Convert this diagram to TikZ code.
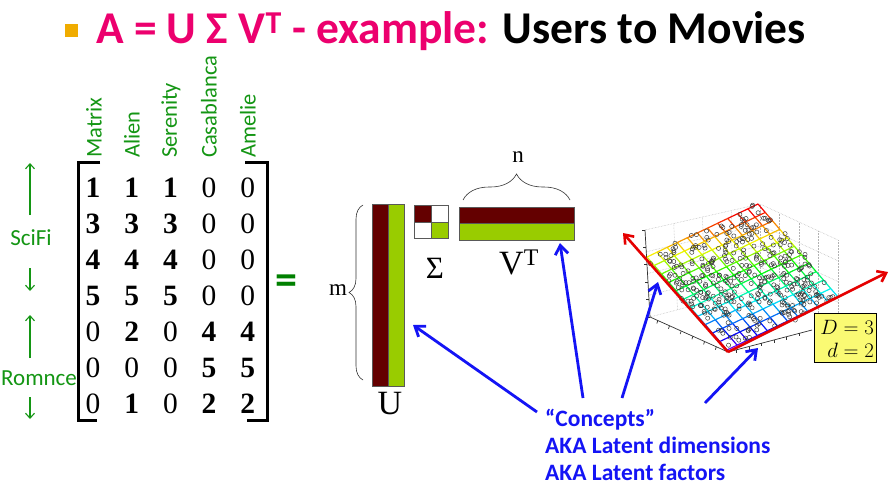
\documentclass[tikz,border=0pt]{standalone}
\usepackage{fontspec}
\setmainfont{Liberation Serif}
\newfontfamily\carl{Carlito}
\usetikzlibrary{arrows.meta,decorations.pathreplacing,calc}
\definecolor{titlered}{RGB}{236,0,110}
\definecolor{bulletor}{RGB}{240,172,0}
\definecolor{hdgreen}{RGB}{20,150,20}
\definecolor{eqgreen}{RGB}{0,128,0}
\definecolor{dkred}{RGB}{100,0,0}
\definecolor{ltgreen}{RGB}{153,204,0}
\definecolor{conceptblue}{RGB}{20,20,245}
\definecolor{boxyellow}{RGB}{250,250,115}
\tikzset{
  header/.style={font=\carl\fontsize{22.5}{26}\selectfont, text=hdgreen, inner sep=0, rotate=90, anchor=west},
  sidelabel/.style={font=\carl\fontsize{23}{26}\selectfont, text=hdgreen, inner sep=0},
  greenarrow/.style={hdgreen, line width=1.1, -{Straight Barb[length=5pt,width=9pt]}},
  entry/.style={font=\fontsize{29.5}{32}\selectfont, inner sep=0},
  bracket/.style={line width=3, line join=miter},
  blockbox/.style={draw=gray!70!black, line width=0.5, inner sep=0, anchor=north west},
  biglabel/.style={font=\fontsize{34}{38}\selectfont, inner sep=0},
  smalllabel/.style={font=\fontsize{23}{26}\selectfont, inner sep=0},
  bluearrow/.style={conceptblue, line width=2.8, -{Straight Barb[length=9pt,width=13pt]}},
  redaxis/.style={red!90!black, line width=2.6, -{Straight Barb[length=8pt,width=12pt]}},
  wallgrid/.style={gray!60, densely dotted, line width=0.5},
  blackaxis/.style={black!80, line width=0.7},
}
\begin{document}
\begin{tikzpicture}[x=1pt,y=-1pt]
\useasboundingbox (0,0) rectangle (891,490);
\fill[white] (0,0) rectangle (891,490);

% title
\node[fill=bulletor, minimum size=13, inner sep=0] (bullet) at (71,30) {};
\node[anchor=base west, font=\carl\bfseries\fontsize{45.5}{50}\selectfont, inner sep=0] (title) at (96,43)
  {\textcolor{titlered}{A = U Σ V\textsuperscript{T} - example:} Users to Movies};

% column headers
\node[header] (hMatrix) at (94,158) {Matrix};
\node[header] (hAlien) at (132,158) {Alien};
\node[header] (hSerenity) at (171,158) {Serenity};
\node[header] (hCasa) at (209,158) {Casablanca};
\node[header] (hAmelie) at (248,158) {Amelie};

% matrix entries
\foreach \row [count=\r] in {{1,1,1,0,0},{3,3,3,0,0},{4,4,4,0,0},{5,5,5,0,0},{0,2,0,4,4},{0,0,0,5,5},{0,1,0,2,2}}{
  \foreach \val [count=\c] in \row {
    \pgfmathsetmacro\xx{93+38.7*(\c-1)}
    \pgfmathsetmacro\yy{188+36*(\r-1)}
    \node[entry] (a\r\c) at (\xx,\yy) {\ifnum\val=0 0\else\textbf{\val}\fi};
  }
}
\draw[bracket] (100,162) -- (78,162) -- (78,420) -- (97,420);
\draw[bracket] (245,162) -- (267,162) -- (267,420) -- (247,420);

% side labels
\node[sidelabel] (scifi) at (31,238) {SciFi};
\node[sidelabel] (romnce) at (39,378) {Romnce};
\draw[greenarrow] (30,215) -- (30,163);
\draw[greenarrow] (30,268) -- (30,291);
\draw[greenarrow] (30,358) -- (30,315);
\draw[greenarrow] (30,397) -- (30,419);

% equals
\node[font=\carl\bfseries\fontsize{44}{48}\selectfont, text=eqgreen, inner sep=0] (eq) at (286,285) {=};

% U
\node[blockbox, fill=dkred, minimum width=16, minimum height=182] (U1) at (372,204) {};
\node[blockbox, fill=ltgreen, minimum width=16, minimum height=182] (U2) at (388,204) {};
\node[biglabel] (Ulab) at (390,404) {U};
\draw[decorate, decoration={brace, amplitude=14pt}, line width=0.6, black!80] (363,380) -- (363,205);
\node[smalllabel] (mlab) at (338,290) {m};

% Sigma
\node[blockbox, fill=dkred, minimum width=17, minimum height=16.5] (S11) at (414,205) {};
\node[blockbox, fill=white, minimum width=17, minimum height=16.5] (S12) at (431,205) {};
\node[blockbox, fill=white, minimum width=17, minimum height=16.5] (S21) at (414,221.5) {};
\node[blockbox, fill=ltgreen, minimum width=17, minimum height=16.5] (S22) at (431,221.5) {};
\node[font=\fontsize{31}{34}\selectfont, inner sep=0] (Slab) at (435,268) {Σ};

% V^T
\node[blockbox, fill=dkred, minimum width=115, minimum height=16] (V1) at (459,207) {};
\node[blockbox, fill=ltgreen, minimum width=115, minimum height=17] (V2) at (459,223) {};
\node[biglabel] (Vlab) at (519,262) {V\textsuperscript{T}};
\draw[decorate, decoration={brace, amplitude=26pt}, line width=0.6, black!80] (463,200) -- (570,200);
\node[smalllabel] (nlab) at (518,157) {n};

% 3D plot: back walls
\coordinate (O) at (728,352);
\coordinate (FL) at (650,317);
\coordinate (FR) at (838,323);
\coordinate (FB) at (760,288);
\coordinate (TL) at (645,230);
\coordinate (TB) at (760,204);
\coordinate (TR) at (838,240);
\foreach \t in {0,0.25,0.5,0.75,1}{
  \draw[wallgrid] ($(FL)!\t!(FB)$) -- ($(TL)!\t!(TB)$);
  \draw[wallgrid] ($(FB)!\t!(FR)$) -- ($(TB)!\t!(TR)$);
  \draw[wallgrid] ($(FL)!\t!(TL)$) -- ($(FB)!\t!(TB)$) -- ($(FR)!\t!(TR)$);
}
\draw[blackaxis] (TL) -- (FL) -- (O) -- (812,330);
\foreach \t in {0,0.2,0.4,0.6,0.8,1}{
  \draw[blackaxis] ($(FL)!\t!(TL)$) -- ++(-3,0);
}
\foreach \t in {0.1,0.25,0.4,0.55,0.7,0.85}{
  \draw[blackaxis] ($(FL)!\t!(O)$) -- ++(-1,3);
  \draw[blackaxis] ($(O)!\t!(812,330)$) -- ++(0,3);
}

% grid surface (u: towards left corner, v: towards right corner)
\foreach \i in {0,...,11}{
  \foreach \j in {0,...,10}{
    \pgfmathsetmacro\pu{\i/11}
    \pgfmathsetmacro\pva{\j/11}
    \pgfmathsetmacro\pvb{(\j+1)/11}
    \pgfmathsetmacro\hueA{max(0,0.75-0.58*\pu-0.21*(\pva+\pvb)/2)}
    \definecolor{gca}{hsb}{\hueA,1,0.97}
    \draw[gca, line width=1.2] (727-80*\pu+111*\pva, 350-93*\pu-53*\pva) -- (727-80*\pu+111*\pvb, 350-93*\pu-53*\pvb);
    \pgfmathsetmacro\hueB{max(0,0.75-0.58*(\pva+\pvb)/2-0.21*\pu)}
    \definecolor{gcb}{hsb}{\hueB,1,0.97}
    \draw[gcb, line width=1.2] (727-80*\pva+111*\pu, 350-93*\pva-53*\pu) -- (727-80*\pvb+111*\pu, 350-93*\pvb-53*\pu);
  }
}
% scatter
\pgfmathsetseed{7}
\foreach \k in {1,...,380}{
  \pgfmathsetmacro\ru{rnd}
  \pgfmathsetmacro\rv{rnd}
  \pgfmathsetmacro\dx{(rnd-0.5)*6}
  \pgfmathsetmacro\dy{(rnd-0.5)*6}
  \draw[black!80, line width=0.45] (727-80*\ru+111*\rv+\dx, 350-93*\ru-53*\rv+\dy) circle[radius=2.1pt];
}
% red axes
\coordinate (axL) at (623,233);
\coordinate (axR) at (888,272);
\draw[redaxis] (O) -- (axL);
\draw[redaxis] (O) -- (axR);

% D d box
\node[draw=black, line width=0.6, fill=boxyellow, minimum width=62, minimum height=49, inner sep=0] (dbox) at (845,337.5) {};
\node[anchor=east, inner sep=0, font=\fontsize{21.5}{24}\selectfont] (Dlab) at (874,327) {$D=3$};
\node[anchor=east, inner sep=0, font=\fontsize{21.5}{24}\selectfont] (dlab) at (874,350) {$d=2$};

% concepts text
\node[anchor=west, align=left, inner sep=0, text=conceptblue, font=\carl\bfseries\fontsize{23.5}{27}\selectfont] (concepts) at (545,445)
  {“Concepts”\\AKA Latent dimensions\\AKA Latent factors};

% blue arrows
\coordinate (sU) at (537,412);
\coordinate (tU) at (413,325);
\coordinate (sV) at (583,398);
\coordinate (tV) at (560,243);
\coordinate (sP1) at (622,398);
\coordinate (tP1) at (658,282);
\coordinate (sP2) at (705,403);
\coordinate (tP2) at (758,348);
\draw[bluearrow] (sU) -- (tU);
\draw[bluearrow] (sV) -- (tV);
\draw[bluearrow] (sP1) -- (tP1);
\draw[bluearrow] (sP2) -- (tP2);
\end{tikzpicture}
\end{document}
